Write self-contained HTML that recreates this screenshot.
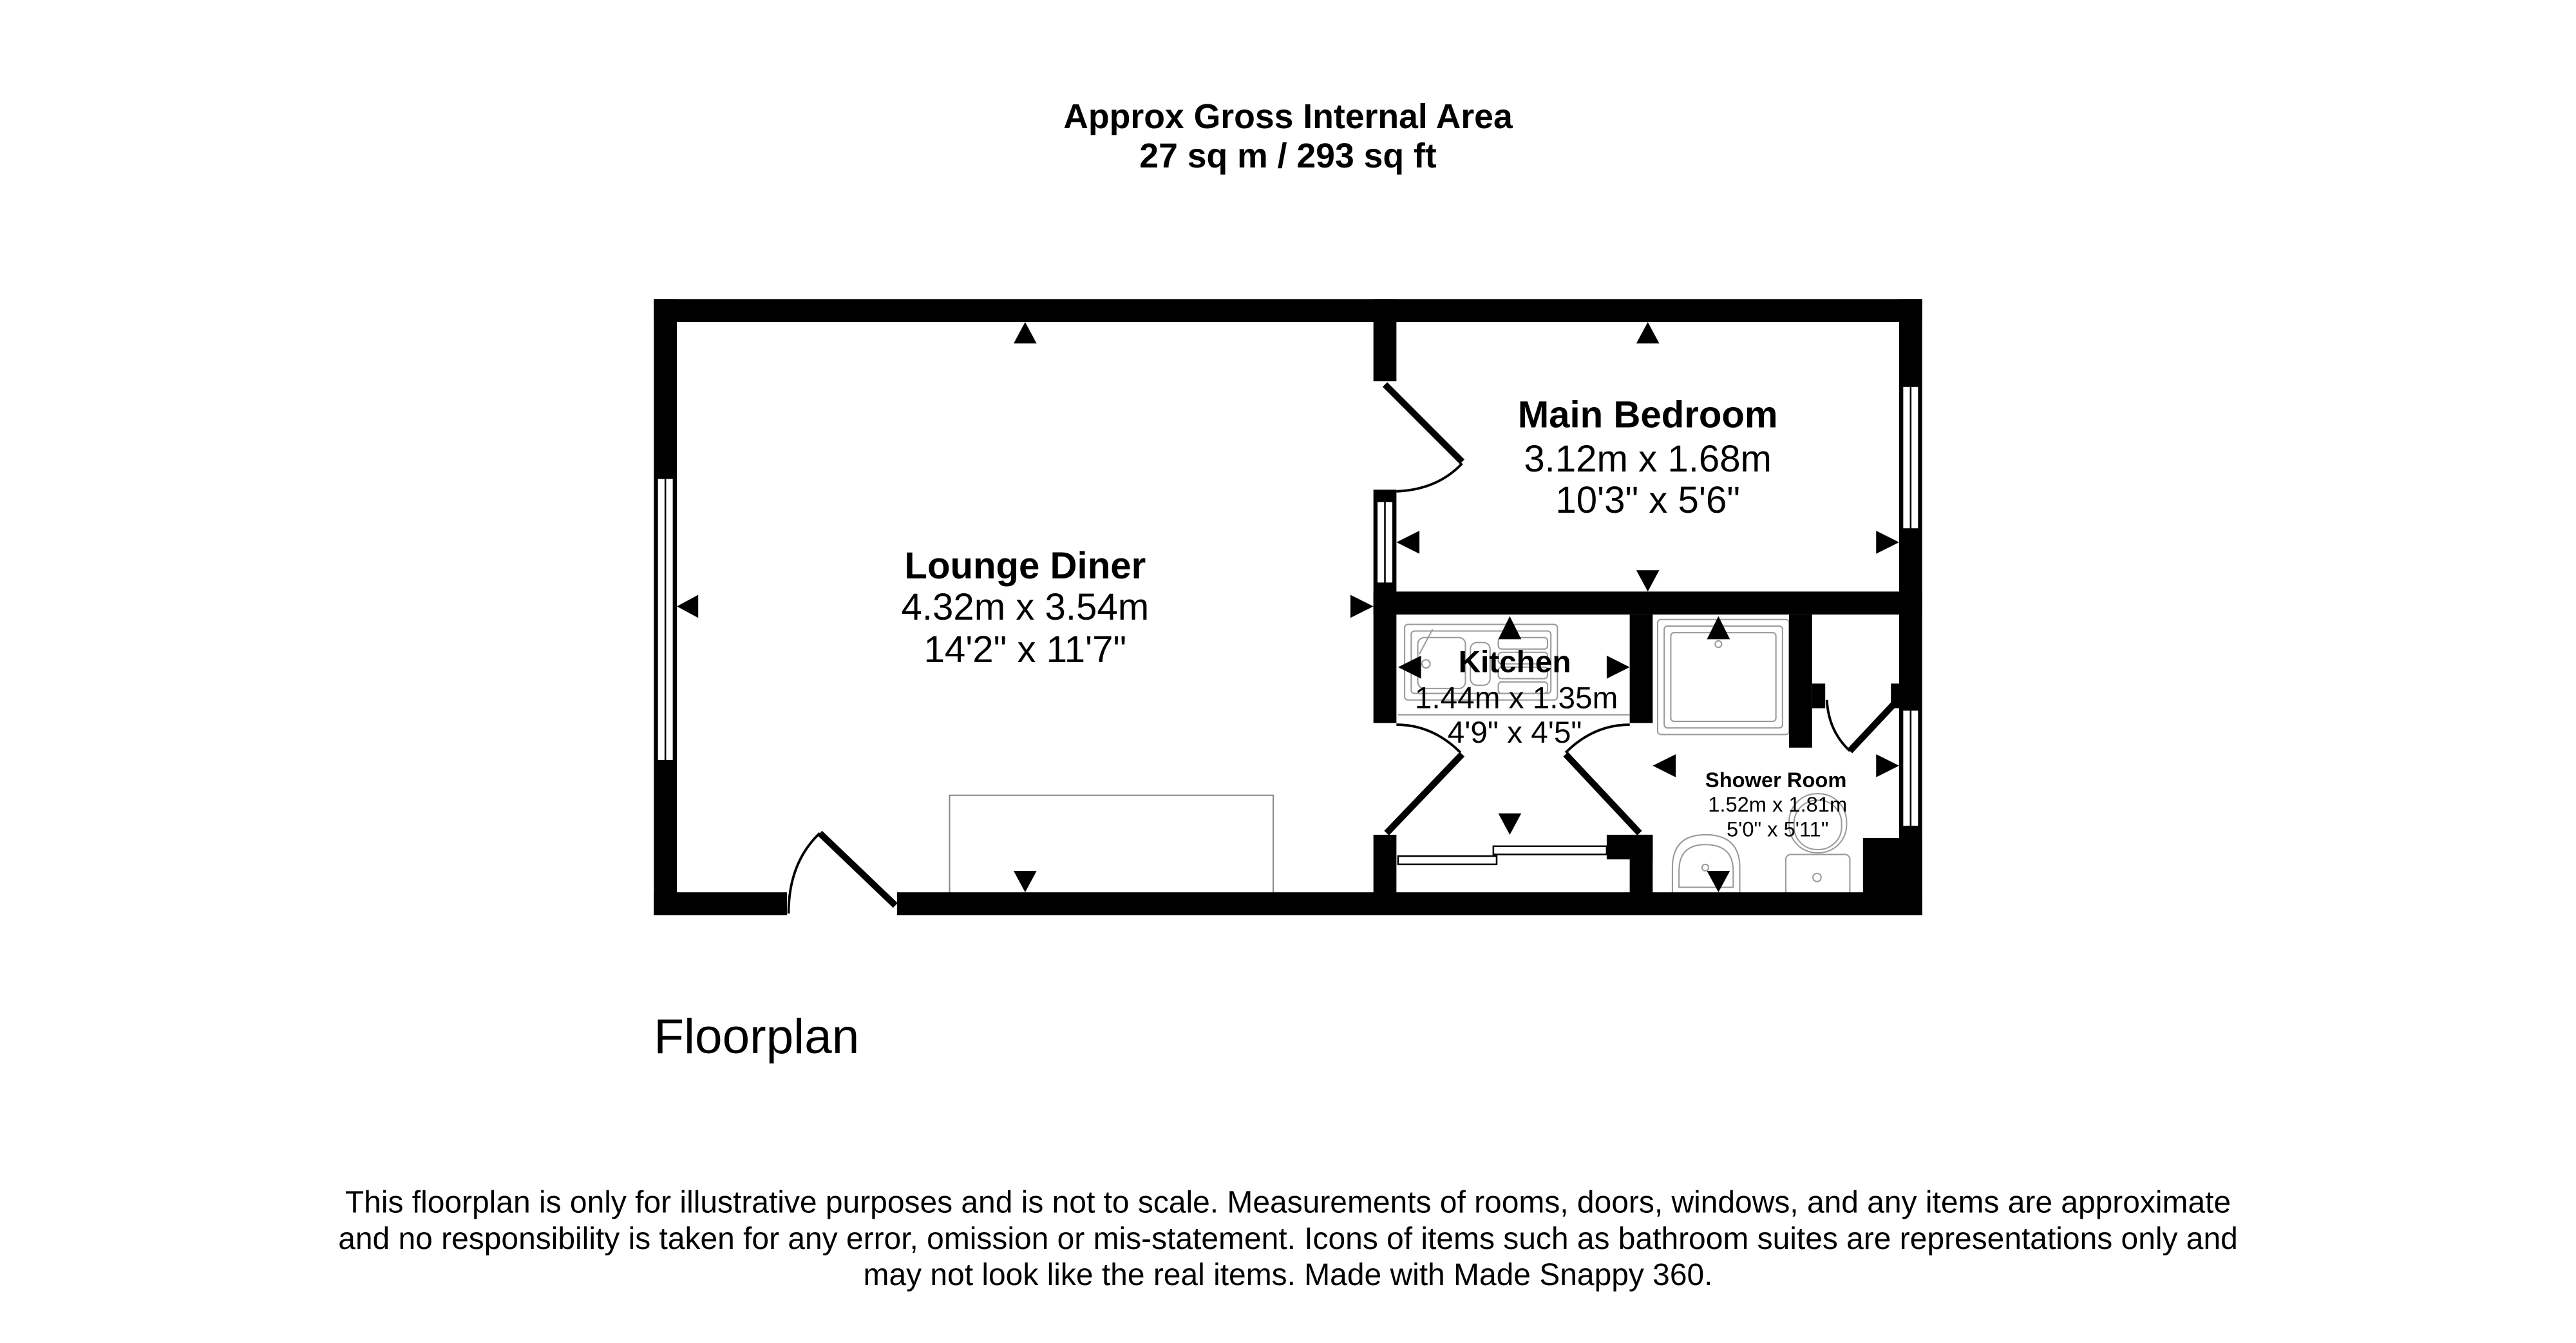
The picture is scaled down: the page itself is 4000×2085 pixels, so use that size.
<!DOCTYPE html>
<html><head><meta charset="utf-8"><style>
html,body{margin:0;padding:0;background:#fff;width:4000px;height:2085px;overflow:hidden}
svg{display:block}
text{font-family:"Liberation Sans",Arial,sans-serif;fill:#000}
</style></head><body>
<svg width="4000" height="2085" viewBox="0 0 1568 817.3" xmlns="http://www.w3.org/2000/svg">
<rect width="1568" height="818" fill="#fff"/>
<!-- title -->
<text x="784" y="78" font-size="21" font-weight="bold" text-anchor="middle">Approx Gross Internal Area</text>
<text x="784" y="102" font-size="21" font-weight="bold" text-anchor="middle">27 sq m / 293 sq ft</text>

<!-- furniture -->
<rect x="578" y="484" width="197" height="60" fill="none" stroke="#888" stroke-width="0.8"/>
<g fill="none" stroke="#999" stroke-width="0.8">
<rect x="855" y="380" width="93" height="46" rx="2"/>
<rect x="859" y="384" width="85" height="38" rx="2"/>
<rect x="863" y="388" width="29" height="31" rx="4"/>
<rect x="895" y="391" width="12" height="26" rx="4"/>
<rect x="912" y="388" width="30" height="7" rx="2"/>
<rect x="912" y="397" width="30" height="7" rx="2"/>
<rect x="912" y="406" width="30" height="7" rx="2"/>
<rect x="912" y="415" width="30" height="7" rx="2"/>
<circle cx="868" cy="404" r="2.5"/>
<line x1="864" y1="398" x2="872" y2="383"/>
<line x1="851" y1="435" x2="992" y2="435"/>
<rect x="1009" y="377" width="80" height="70" rx="2"/>
<rect x="1013" y="381" width="72" height="62" rx="2"/>
<rect x="1017" y="385" width="64" height="54" rx="2"/>
<circle cx="1046" cy="392" r="2"/>
<path d="M1018 545 L1018 528 Q1018 508 1038 508 Q1059 508 1059 528 L1059 545 Z"/>
<path d="M1022 540 L1022 530 Q1022 514 1038 514 Q1055 514 1055 530 L1055 540 Z"/>
<circle cx="1038" cy="528" r="2"/>
<rect x="1087" y="520" width="39" height="25" rx="3"/>
<rect x="1089" y="483" width="35" height="36" rx="17"/>
<rect x="1092" y="487" width="29" height="30" rx="14"/>
<circle cx="1106" cy="534" r="2.5"/>
</g>

<!-- walls -->
<g fill="#000">
<rect x="398" y="182" width="772" height="14"/>
<rect x="398" y="182" width="14" height="375"/>
<rect x="398" y="543" width="81" height="14"/>
<rect x="546" y="543" width="624" height="14"/>
<rect x="1156" y="182" width="14" height="375"/>
<rect x="836" y="182" width="14" height="50"/>
<rect x="836" y="298" width="14" height="142"/>
<rect x="836" y="508" width="14" height="49"/>
<rect x="836" y="360" width="334" height="14"/>
<rect x="992" y="374" width="14" height="66"/>
<rect x="992" y="508" width="14" height="49"/>
<rect x="978" y="508" width="28" height="15"/>
<rect x="1089" y="374" width="14" height="81"/>
<rect x="1103" y="416" width="8" height="15"/>
<rect x="1134" y="510" width="36" height="47"/>
</g>
<g fill="#fff" stroke="#000" stroke-width="1">
<rect x="400" y="291" width="10" height="172"/>
<line x1="405" y1="291" x2="405" y2="463"/>
<rect x="1158" y="235" width="10" height="87"/>
<line x1="1163" y1="235" x2="1163" y2="322"/>
<rect x="1158" y="432" width="10" height="71"/>
<line x1="1163" y1="432" x2="1163" y2="503"/>
<rect x="838" y="305" width="10" height="50"/>
<line x1="843" y1="305" x2="843" y2="355"/>
<rect x="851" y="521" width="60" height="5"/>
<rect x="909" y="515" width="69" height="5"/>
</g>
<rect x="1151" y="416" width="5" height="15" fill="#000"/>

<!-- doors -->
<g stroke="#000" fill="none">
<line x1="843" y1="234" x2="890" y2="281" stroke-width="4"/>
<path d="M890 282 Q875 298 850 299" stroke-width="1.5"/>
<line x1="499" y1="507" x2="545" y2="551" stroke-width="4"/>
<path d="M499 507 Q480 525 480 556" stroke-width="1.5"/>
<line x1="844" y1="507" x2="890" y2="459" stroke-width="4"/>
<path d="M889 458 Q872 441 850 441" stroke-width="1.5"/>
<line x1="998" y1="507" x2="953" y2="459" stroke-width="4"/>
<path d="M953 458 Q970 441 992 441" stroke-width="1.5"/>
<line x1="1157" y1="424" x2="1126" y2="457" stroke-width="4"/>
<path d="M1126 457 Q1113 445 1112 426" stroke-width="1.5"/>
</g>

<!-- arrows -->
<g fill="#000">
<path d="M617 209 L631 209 L624 196 Z"/>
<path d="M617 530 L631 530 L624 543 Z"/>
<path d="M425 362 L425 376 L412 369 Z"/>
<path d="M822 362 L822 376 L836 369 Z"/>
<path d="M996 209 L1010 209 L1003 196 Z"/>
<path d="M996 347 L1010 347 L1003 360 Z"/>
<path d="M864 323 L864 337 L850 330 Z"/>
<path d="M1142 323 L1142 337 L1156 330 Z"/>
<path d="M912 389 L926 389 L919 375 Z"/>
<path d="M912 495 L926 495 L919 508 Z"/>
<path d="M865 399 L865 413 L851 406 Z"/>
<path d="M978 399 L978 413 L992 406 Z"/>
<path d="M1039 389 L1053 389 L1046 375 Z"/>
<path d="M1039 530 L1053 530 L1046 543 Z"/>
<path d="M1020 459 L1020 473 L1006 466 Z"/>
<path d="M1142 459 L1142 473 L1156 466 Z"/>
</g>

<!-- labels -->
<text x="624" y="352" font-size="22.8" font-weight="bold" text-anchor="middle">Lounge Diner</text>
<text x="624" y="377" font-size="22.8" text-anchor="middle">4.32m x 3.54m</text>
<text x="624" y="403" font-size="22.8" text-anchor="middle">14'2" x 11'7"</text>
<text x="1003" y="260" font-size="22.8" font-weight="bold" text-anchor="middle">Main Bedroom</text>
<text x="1003" y="287" font-size="22.8" text-anchor="middle">3.12m x 1.68m</text>
<text x="1003" y="312" font-size="22.8" text-anchor="middle">10'3" x 5'6"</text>
<text x="922" y="409" font-size="18.7" font-weight="bold" text-anchor="middle">Kitchen</text>
<text x="923" y="431" font-size="18.7" text-anchor="middle">1.44m x 1.35m</text>
<text x="922" y="452" font-size="18.7" text-anchor="middle">4'9" x 4'5"</text>
<text x="1081" y="479" font-size="12.8" font-weight="bold" text-anchor="middle">Shower Room</text>
<text x="1082" y="494" font-size="12.8" text-anchor="middle">1.52m x 1.81m</text>
<text x="1082" y="509" font-size="12.8" text-anchor="middle">5'0" x 5'11"</text>

<text x="398" y="641" font-size="30">Floorplan</text>

<text x="784" y="738" font-size="18.8" text-anchor="middle">This floorplan is only for illustrative purposes and is not to scale. Measurements of rooms, doors, windows, and any items are approximate</text>
<text x="784" y="760" font-size="18.8" text-anchor="middle">and no responsibility is taken for any error, omission or mis-statement. Icons of items such as bathroom suites are representations only and</text>
<text x="784" y="782" font-size="18.8" text-anchor="middle">may not look like the real items. Made with Made Snappy 360.</text>
</svg>
</body></html>
